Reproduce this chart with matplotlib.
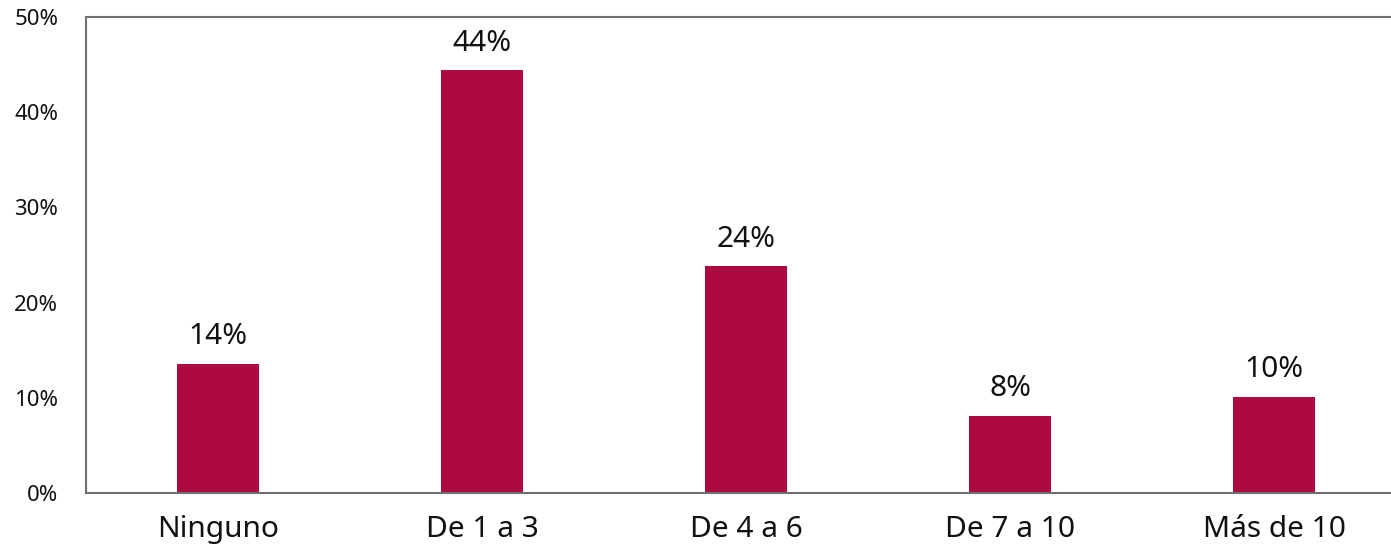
import matplotlib.pyplot as plt
from matplotlib.ticker import PercentFormatter

# data
categories = ["Ninguno", "De 1 a 3", "De 4 a 6", "De 7 a 10", "Más de 10"]
values = [13.6, 44.4, 23.8, 8.1, 10.1]
labels = ["14%", "44%", "24%", "8%", "10%"]

plt.rcParams["font.family"] = ["Noto Sans", "DejaVu Sans"]

fig = plt.figure(figsize=(13.91, 5.46), dpi=100)
ax = fig.add_axes([0.0618, 0.097, 0.949, 0.872])

x = range(len(categories))
bars = ax.bar(x, values, width=0.31, color="#ad0a3f")

# value labels above bars
for b, lab in zip(bars, labels):
    ax.annotate(lab, (b.get_x() + b.get_width() / 2, b.get_height()),
                xytext=(0, 9), textcoords="offset points",
                ha="center", va="bottom", fontsize=21.5, color="#111111")

ax.set_xlim(-0.5, 4.5)
ax.set_ylim(0, 50)
ax.set_yticks([0, 10, 20, 30, 40, 50])
ax.yaxis.set_major_formatter(PercentFormatter(decimals=0))
ax.set_xticks(list(x))
ax.set_xticklabels(categories)

ax.tick_params(axis="y", length=0, pad=20, labelsize=16, labelcolor="#111111")
ax.tick_params(axis="x", length=0, pad=16, labelsize=21.5, labelcolor="#111111")

for side in ["left", "bottom", "top"]:
    ax.spines[side].set_color("#6d6f72")
    ax.spines[side].set_linewidth(1.5)
ax.spines["right"].set_visible(False)

fig.savefig("out.png", dpi=100)
